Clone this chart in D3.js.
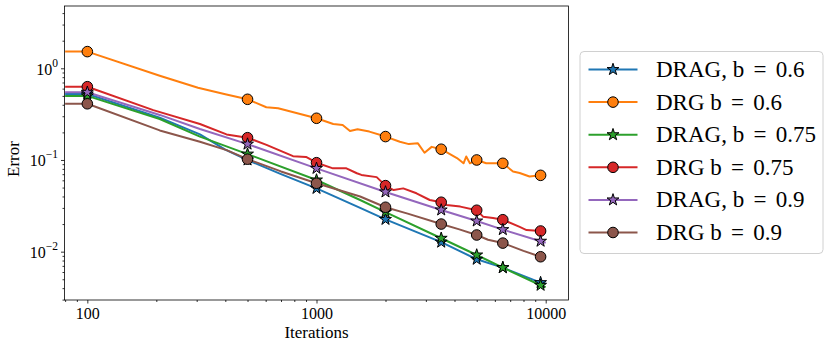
<!DOCTYPE html>
<html>
<head>
<meta charset="utf-8">
<script src="https://cdn.jsdelivr.net/npm/d3@7"></script>
<style>
  body { margin: 0; background: #fff; }
  text { font-family: "Liberation Serif", "DejaVu Serif", serif; fill: #000; }
</style>
</head>
<body>
<div id="chart"></div>
<script>
// Donnees : [iterations, erreur]
const markerIters = [100, 500, 1000, 2000, 3500, 5000, 6500, 9500];

const dragB06 = [[80,0.525],[100,0.525],[207,0.29],[310,0.19],[400,0.13],[500,0.10],[700,0.07],[1000,0.049],
  [1550,0.030],[2000,0.0225],[3500,0.0127],[5000,0.00826],[6500,0.00669],[9500,0.0046],[10000,0.0045]];
const drgB06 = [[80,1.52],[100,1.52],[207,0.83],[304,0.614],[400,0.52],[500,0.459],[604,0.376],[680,0.366],
  [1000,0.285],[1183,0.247],[1300,0.241],[1400,0.207],[1510,0.216],[1700,0.204],[2000,0.180],[2310,0.158],
  [2530,0.149],[2770,0.152],[2960,0.12],[3180,0.139],[3500,0.131],[4100,0.105],[4380,0.092],[4500,0.109],
  [4670,0.092],[5000,0.100],[5500,0.092],[6000,0.092],[6500,0.092],[7200,0.075],[7700,0.072],[8500,0.066],
  [9500,0.068],[9800,0.065]];
const dragB075 = [[80,0.50],[100,0.50],[207,0.28],[310,0.18],[500,0.116],[1000,0.0605],[1550,0.0366],
  [2000,0.027],[3500,0.014],[5000,0.0092],[6500,0.0067],[9500,0.0043],[10000,0.0041]];
const drgB075 = [[80,0.63],[100,0.63],[194,0.35],[310,0.247],[405,0.19],[500,0.175],[605,0.146],[790,0.11],
  [900,0.108],[1000,0.0934],[1180,0.081],[1350,0.081],[1500,0.0716],[1570,0.0687],[1830,0.065],[2000,0.0525],
  [2170,0.047],[2390,0.049],[2730,0.0433],[3120,0.0366],[3500,0.0346],[3690,0.0323],[4240,0.031],[5000,0.0283],
  [5330,0.0241],[5890,0.0233],[6500,0.0223],[7700,0.0186],[8250,0.0172],[9500,0.0168],[10000,0.0165]];
const dragB09 = [[80,0.548],[100,0.548],[207,0.31],[310,0.218],[500,0.149],[1000,0.081],[2000,0.0448],
  [3500,0.0285],[5000,0.0216],[6500,0.0174],[9500,0.013],[10000,0.0125]];
const drgB09 = [[80,0.41],[100,0.41],[207,0.21],[310,0.158],[405,0.128],[500,0.102],[700,0.075],[1000,0.0557],
  [1550,0.040],[2000,0.0305],[2500,0.026],[3500,0.020],[4200,0.0175],[5000,0.0152],[5600,0.0135],[6500,0.0124],
  [8000,0.0102],[9500,0.0088],[10000,0.0086]];

const seriesNames = ["DRAG, b = 0.6", "DRG b = 0.6", "DRAG, b = 0.75", "DRG b = 0.75", "DRAG, b = 0.9", "DRG b = 0.9"];
const seriesData = [dragB06, drgB06, dragB075, drgB075, dragB09, drgB09];
const seriesColors = ["#1f77b4", "#ff7f0e", "#2ca02c", "#d62728", "#9467bd", "#8c564b"];
const seriesMarkers = ["star", "circle", "star", "circle", "star", "circle"];

const xMajor = [100, 1000, 10000];
const yMajorExp = [-2, -1, 0];

// Dimensions
const W = 830, H = 349;
const margin = {top: 6, right: 261.5, bottom: 49, left: 64.5};
const width = W - margin.left - margin.right,
      height = H - margin.top - margin.bottom;

const svg = d3.select("#chart").append("svg")
    .attr("width", W).attr("height", H);
const g = svg.append("g")
    .attr("transform", `translate(${margin.left},${margin.top})`);

const x = d3.scaleLog().domain([79.5, 12575]).range([0, width]);
const y = d3.scaleLog().domain([0.00297, 4.78]).range([height, 0]);

// Graduations mineures
const xMinor = [], yMinor = [];
for (let e = 1; e <= 4; e++) for (let k = 2; k <= 9; k++) {
  const v = k * Math.pow(10, e);
  if (v >= x.domain()[0] && v <= x.domain()[1]) xMinor.push(v);
}
for (let e = -3; e <= 0; e++) for (let k = 2; k <= 9; k++) {
  const v = k * Math.pow(10, e);
  if (v >= y.domain()[0] && v <= y.domain()[1]) yMinor.push(v);
}

// Axe X
g.append("g").attr("transform", `translate(0,${height})`)
  .call(d3.axisBottom(x).tickValues(xMinor).tickSize(2).tickFormat(""))
  .call(a => a.select(".domain").remove());
g.append("g").attr("transform", `translate(0,${height})`)
  .call(d3.axisBottom(x).tickValues(xMajor).tickSize(3.5).tickPadding(4).tickFormat(d3.format("d")))
  .call(a => a.select(".domain").remove())
  .selectAll("text").style("font-size", "16px").attr("fill", "#000");

// Axe Y
g.append("g")
  .call(d3.axisLeft(y).tickValues(yMinor).tickSize(2).tickFormat(""))
  .call(a => a.select(".domain").remove());
const yAx = g.append("g")
  .call(d3.axisLeft(y).tickValues(yMajorExp.map(e => Math.pow(10, e))).tickSize(3.5).tickPadding(3).tickFormat(""))
  .call(a => a.select(".domain").remove());
yAx.selectAll(".tick").each(function(d) {
  const t = d3.select(this).append("text")
    .attr("x", -6.5).attr("y", 6).attr("text-anchor", "end").attr("fill", "#000")
    .style("font-size", "16px");
  t.append("tspan").text("10");
  t.append("tspan").attr("dy", -8).style("font-size", "11.5px")
    .text(Math.round(Math.log10(d)) < 0 ? "\u2212" + Math.abs(Math.round(Math.log10(d))) : "0");
});
g.selectAll(".tick line").attr("stroke", "#000").attr("stroke-width", 0.8);

// Titres des axes
g.append("text").attr("x", x(1000)).attr("y", height + 38)
  .attr("text-anchor", "middle").style("font-size", "17px").text("Iterations");
g.append("text").attr("transform", `translate(${-margin.left + 19},${height / 2 + 6}) rotate(-90)`)
  .attr("text-anchor", "middle").style("font-size", "17px").text("Error");

// Courbes
g.append("clipPath").attr("id", "clip").append("rect")
  .attr("width", width).attr("height", height);
const plot = g.append("g").attr("clip-path", "url(#clip)");

const line = d3.line().x(d => x(d[0])).y(d => y(d[1]));
const starPath = d3.symbol().type(d3.symbolStar).size(44);
const circlePath = d3.symbol().type(d3.symbolCircle).size(88);

function drawMarker(sel, type, color) {
  sel.append("path")
    .attr("d", type === "star" ? starPath() : circlePath())
    .attr("fill", color).attr("stroke", "#000").attr("stroke-width", 1);
}

seriesData.forEach((data, i) => {
  plot.append("path").datum(data)
    .attr("fill", "none").attr("stroke", seriesColors[i]).attr("stroke-width", 2)
    .attr("stroke-linejoin", "round").attr("d", line);
  data.filter(d => markerIters.includes(d[0])).forEach(d => {
    const m = g.append("g").attr("transform", `translate(${x(d[0])},${y(d[1])})`);
    drawMarker(m, seriesMarkers[i], seriesColors[i]);
  });
});

// Cadre
g.append("rect").attr("width", width).attr("height", height)
  .attr("fill", "none").attr("stroke", "#000").attr("stroke-width", 0.8);

// Legende
const leg = svg.append("g").attr("transform", "translate(580,51.5)");
leg.append("rect").attr("width", 243).attr("height", 202).attr("rx", 4)
  .attr("fill", "#fff").attr("stroke", "#d0d0d0").attr("stroke-width", 1);
seriesNames.forEach((name, i) => {
  const row = leg.append("g").attr("transform", `translate(0,${18 + i * 32.6})`);
  row.append("line").attr("x1", 8.5).attr("x2", 57.5)
    .attr("stroke", seriesColors[i]).attr("stroke-width", 2);
  const m = row.append("g").attr("transform", "translate(33,0)");
  drawMarker(m, seriesMarkers[i], seriesColors[i]);
  const parts = name.split(" = ");
  const t = row.append("text").attr("x", 76).attr("y", 7.5).style("font-size", "23px")
    .attr("xml:space", "preserve");
  t.append("tspan").text(parts[0] + " ");
  t.append("tspan").attr("dx", 3.5).text("= ");
  t.append("tspan").attr("dx", 3.5).text(parts[1]);
});
</script>
</body>
</html>
